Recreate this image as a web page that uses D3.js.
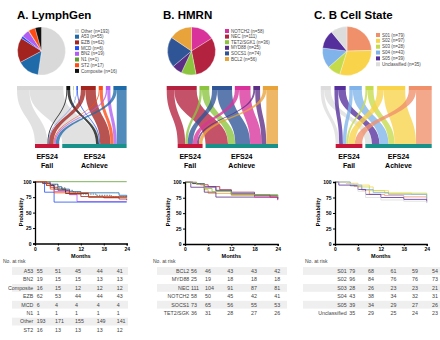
<!DOCTYPE html>
<html>
<head>
<meta charset="utf-8">
<script src="https://cdn.jsdelivr.net/npm/d3@7"></script>
<style>
body { margin: 0; background: #fff; }
svg { font-family: "Liberation Sans", Arial, sans-serif; }
</style>
</head>
<body>
<svg id="fig" width="440" height="340"></svg>
<script>
// ---- LymphGen ----
var lgNames = ["Other", "A53", "EZB", "MCD", "BN2", "N1", "ST2", "Composite"];
var lgCounts = [193, 55, 62, 6, 19, 1, 17, 16];
var lgFail = [52, 14, 19, 2, 6, 0, 4, 4];
var lgSankeyOrder = ["Other", "Composite", "N1", "MCD", "EZB", "ST2", "BN2", "A53"];
var lgKM = {
    "A53": [[0,100],[2,98],[4,96],[6,92],[7,88],[9,84],[12,82],[21,82],[22,78],[24,75]],
    "BN2": [[0,100],[4,95],[5,84],[9,79],[11,68],[24,68]],
    "Composite": [[0,100],[3,94],[5,88],[8,81],[14,75],[24,75]],
    "EZB": [[0,100],[2,97],[4,91],[6,86],[9,80],[12,76],[18,74],[22,72],[24,70]],
    "MCD": [[0,100],[2.5,83],[5,67],[24,67]],
    "N1": [[0,100],[24,100]],
    "Other": [[0,100],[2,98],[4,95],[6,90],[8,86],[10,83],[12,80],[16,78],[20,76],[24,73]],
    "ST2": [[0,100],[3,94],[4,88],[5,82],[11,82],[14,76],[24,76]]
};
var lgRiskNames = ["A53", "BN2", "Composite", "EZB", "MCD", "N1", "Other", "ST2"];
var lgRisk = [[55,51,45,44,41],[19,15,15,13,13],[16,15,12,12,12],[62,53,44,44,43],
              [6,4,4,4,4],[1,1,1,1,1],[193,171,155,149,141],[16,13,13,13,12]];

// ---- HMRN ----
var hmNames = ["NOTCH2", "NEC", "TET2/SGK1", "MYD88", "SOCS1", "BCL2"];
var hmCounts = [58, 111, 36, 25, 74, 56];
var hmFail = [16, 28, 9, 7, 19, 13];
var hmSankeyOrder = ["NEC", "TET2/SGK1", "SOCS1", "NOTCH2", "MYD88", "BCL2"];
var hmKM = {
    "BCL2": [[0,100],[2,98],[5,88],[6,82],[12,79],[24,78]],
    "MYD88": [[0,100],[1.5,92],[5,84],[8,76],[24,72]],
    "NEC": [[0,100],[2,98],[4,96],[6,93],[9,88],[12,84],[18,80],[22,76],[24,73]],
    "NOTCH2": [[0,100],[3,97],[5,92],[8,86],[12,80],[18,76],[24,71]],
    "SOCS1": [[0,100],[2,98],[5,93],[8,87],[12,82],[18,79],[24,74]],
    "TET2/SGK1": [[0,100],[3,97],[5,90],[7,85],[12,80],[24,76]]
};
var hmRiskNames = ["BCL2", "MYD88", "NEC", "NOTCH2", "SOCS1", "TET2/SGK"];
var hmRisk = [[56,46,43,43,42],[25,19,18,18,18],[111,104,91,87,81],
              [58,50,45,42,41],[73,65,56,55,53],[36,31,28,27,26]];

// ---- B Cell State ----
var bcNames = ["S01", "S02", "S03", "S04", "S05", "Unclassified"];
var bcCounts = [79, 97, 28, 43, 39, 35];
var bcFail = [25, 23, 7, 12, 13, 12];
var bcSankeyOrder = ["Unclassified", "S05", "S04", "S03", "S02", "S01"];
var bcKM = {
    "S01": [[0,100],[3,97],[5,93],[7,87],[9,80],[13,78],[18,76],[24,70]],
    "S02": [[0,100],[3,98],[6,95],[9,92],[10,86],[14,82],[20,80],[24,77]],
    "S03": [[0,100],[4,96],[6,92],[9,86],[13,82],[24,75]],
    "S04": [[0,100],[4,95],[7,88],[10,83],[14,80],[24,73]],
    "S05": [[0,100],[1,95],[4,94],[6,88],[8,80],[12,75],[18,72],[24,67]],
    "Unclassified": [[0,100],[3,97],[6,85],[8,75],[12,71],[18,69],[24,66]]
};
var bcRiskNames = ["S01", "S02", "S03", "S04", "S05", "Unclassified"];
var bcRisk = [[79,68,61,59,54],[96,84,76,76,73],[28,26,23,23,21],
              [43,38,34,32,31],[39,34,29,27,26],[35,29,25,24,23]];

var monthTicks = [0, 6, 12, 18, 24];
var probTicks = [0, 25, 50, 75, 100];

var lgColors = ["#d9d9d9", "#1f6aa8", "#a3231f", "#1f4ff5", "#b15cf2", "#5a9e2f", "#ff4a12", "#111111"];
var hmColors = ["#d9339b", "#b3223f", "#8cc43f", "#5c2d84", "#2f5597", "#e8a33a"];
var bcColors = ["#f0906b", "#f9d44a", "#c6db4b", "#7fb3ea", "#55309c", "#dcdcdc"];
var failColor = "#c8163a", achieveColor = "#17918a";

var svg = d3.select("#fig");

function drawPanel(p)
{
    var g = svg.append('g');
    var items = p.names.map((nm, i) => ({ name: nm, n: p.counts[i], fail: p.fails[i], color: p.colors[i] }));
    var byName = {};
    items.forEach(d => byName[d.name] = d);

    g.append('text')
        .attr('x', p.titleX).attr('y', 19)
        .attr('font-size', 11.5).attr('font-weight', 'bold')
        .text(p.title);

    // pie
    var pie = d3.pie().sort(null).value(d => d.n);
    var arc = d3.arc().innerRadius(0).outerRadius(p.pieR);
    g.append('g')
        .attr('transform', `translate(${p.pieX}, ${p.pieY})`)
        .selectAll('path')
        .data(pie(items))
        .join('path')
        .attr('d', arc)
        .attr('fill', d => d.data.color)
        .attr('stroke', '#fff')
        .attr('stroke-width', 0.3);

    var leg = g.append('g').selectAll('g')
        .data(items)
        .join('g')
        .attr('transform', (d, i) => `translate(${p.legX}, ${p.legY + i * p.legStep})`);
    leg.append('rect')
        .attr('x', 0).attr('y', -2).attr('width', 4).attr('height', 4)
        .attr('fill', d => d.color);
    leg.append('text')
        .attr('x', 6).attr('y', 1.6)
        .attr('font-size', 4.5).attr('fill', '#444')
        .text(d => `${d.name} (n=${d.n})`);

    // sankey (top categories -> EFS24 fail / achieve)
    var order = p.sankeyOrder.map(nm => byName[nm]);
    var total = d3.sum(order, d => d.n);
    var k = d3.scaleLinear()
        .domain([0, total])
        .range([0, p.sx1 - p.sx0 - p.sGap * (order.length - 1)]);
    var x = p.sx0;
    order.forEach(d => { d.x0 = x; d.x1 = x + k(d.n); x = d.x1 + p.sGap; });
    var failTot = d3.sum(order, d => d.fail);
    var achX0 = p.sx1 - k(total - failTot);
    var failX1 = achX0 - 3;
    var failX0 = failX1 - k(failTot);
    var fx = failX0, ax = achX0;
    var links = [];
    order.forEach(d => {
        var fw = k(d.fail), aw = k(d.n - d.fail);
        if (d.fail > 0) links.push({ color: d.color, a0: d.x0, a1: d.x0 + fw, b0: fx, b1: fx + fw });
        fx += fw;
        links.push({ color: d.color, a0: d.x0 + fw, a1: d.x1, b0: ax, b1: ax + aw });
        ax += aw;
    });
    var yT = p.sTop + 4, yB = p.sBot - 4, ym = (yT + yB) / 2;
    g.append('g').selectAll('path')
        .data(links)
        .join('path')
        .attr('d', l => `M${l.a0},${yT}C${l.a0},${ym} ${l.b0},${ym} ${l.b0},${yB}` +
                        `L${l.b1},${yB}C${l.b1},${ym} ${l.a1},${ym} ${l.a1},${yT}Z`)
        .attr('fill', l => l.color)
        .attr('fill-opacity', 0.78);
    g.append('g').selectAll('rect')
        .data(order)
        .join('rect')
        .attr('x', d => d.x0).attr('y', p.sTop)
        .attr('width', d => Math.max(0.4, d.x1 - d.x0)).attr('height', 4)
        .attr('fill', d => d.color);
    g.append('rect').attr('x', failX0).attr('y', yB).attr('width', failX1 - failX0).attr('height', 4).attr('fill', failColor);
    g.append('rect').attr('x', achX0).attr('y', yB).attr('width', p.sx1 - achX0).attr('height', 4).attr('fill', achieveColor);
    [[(failX0 + failX1) / 2, "Fail"], [(achX0 + p.sx1) / 2, "Achieve"]].forEach(function(t) {
        var lab = g.append('text')
            .attr('text-anchor', 'middle').attr('font-size', 7).attr('font-weight', 'bold');
        lab.append('tspan').attr('x', t[0]).attr('y', 158.5).text("EFS24");
        lab.append('tspan').attr('x', t[0]).attr('y', 167.5).text(t[1]);
    });

    // Kaplan-Meier
    var xScale = d3.scaleLinear().domain([0, 24]).range([p.kx0, p.kx1]);
    var yScale = d3.scaleLinear().domain([0, 100]).range([p.ky0, p.ky1]);
    var line = d3.line()
        .x(d => xScale(d[0]))
        .y(d => yScale(d[1]))
        .curve(d3.curveStepAfter);
    Object.keys(p.km).forEach(function(nm) {
        var c = byName[nm] || byName[nm + "1"];
        g.append('path')
            .attr('d', line(p.km[nm]))
            .attr('fill', 'none')
            .attr('stroke', nm == "Other" ? '#555' : c.color)
            .attr('stroke-dasharray', nm == "Other" ? '1.5,1' : null)
            .attr('stroke-width', 0.8);
    });
    var yAxis = g.append('g')
        .attr('transform', `translate(${p.kx0}, 0)`)
        .call(d3.axisLeft(yScale).tickValues(probTicks).tickSize(2).tickPadding(1.5));
    var xAxis = g.append('g')
        .attr('transform', `translate(0, ${p.ky0})`)
        .call(d3.axisBottom(xScale).tickValues(monthTicks).tickSize(2).tickPadding(1.5));
    [yAxis, xAxis].forEach(a => {
        a.select('.domain').attr('stroke-width', 1.3);
        a.selectAll('.tick line').attr('stroke-width', 1);
        a.selectAll('.tick text').attr('font-size', 5).attr('font-weight', 'bold')
            .attr('font-family', '"Liberation Sans", Arial, sans-serif');
    });
    g.append('text')
        .attr('transform', `translate(${p.probX}, 212) rotate(-90)`)
        .attr('text-anchor', 'middle').attr('font-size', 5.5).attr('font-weight', 'bold')
        .text("Probability");
    g.append('text')
        .attr('x', (p.kx0 + p.kx1) / 2).attr('y', 257.5)
        .attr('text-anchor', 'middle').attr('font-size', 5.5).attr('font-weight', 'bold')
        .text("Months");

    // number at risk table
    g.append('text')
        .attr('x', p.noRiskX).attr('y', 262.5)
        .attr('font-size', 5).attr('fill', '#444')
        .text("No. at risk");
    var rows = g.append('g').selectAll('g')
        .data(p.riskNames)
        .join('g')
        .attr('transform', (d, i) => `translate(0, ${271 + i * 8.43})`);
    rows.filter((d, i) => i % 2 == 0)
        .append('rect')
        .attr('x', p.bandX0).attr('y', -3.9)
        .attr('width', p.bandX1 - p.bandX0).attr('height', 7.8)
        .attr('fill', '#efefef');
    rows.append('text')
        .attr('x', p.labelX).attr('y', 1.8)
        .attr('text-anchor', 'end').attr('font-size', 5.3).attr('fill', '#444')
        .text(d => d);
    rows.each(function(d, i) {
        d3.select(this).selectAll('text.v')
            .data(p.risk[i])
            .join('text')
            .attr('class', 'v')
            .attr('x', (v, j) => p.cols[j]).attr('y', 1.8)
            .attr('font-size', 5.3).attr('fill', '#444')
            .text(v => v);
    });
}

drawPanel({
    title: "A. LymphGen", names: lgNames, counts: lgCounts, fails: lgFail, colors: lgColors,
    sankeyOrder: lgSankeyOrder, km: lgKM, riskNames: lgRiskNames, risk: lgRisk,
    titleX: 17, pieX: 41.5, pieY: 51, pieR: 24, legX: 75, legY: 31, legStep: 5.7,
    sx0: 17, sx1: 126.6, sGap: 3, sTop: 86, sBot: 148,
    kx0: 35, kx1: 126.7, ky0: 243.5, ky1: 181.7, probX: 22.5,
    noRiskX: 3, labelX: 33.3, cols: [36.7, 55, 75, 96.7, 116.7], bandX0: 12, bandX1: 128
});
drawPanel({
    title: "B. HMRN", names: hmNames, counts: hmCounts, fails: hmFail, colors: hmColors,
    sankeyOrder: hmSankeyOrder, km: hmKM, riskNames: hmRiskNames, risk: hmRisk,
    titleX: 163, pieX: 191.5, pieY: 51, pieR: 24, legX: 225, legY: 31, legStep: 5.6,
    sx0: 166.7, sx1: 278, sGap: 2.8, sTop: 86, sBot: 148,
    kx0: 185, kx1: 277.7, ky0: 244, ky1: 182.3, probX: 170,
    noRiskX: 153, labelX: 189.3, cols: [191, 205, 227.3, 251, 274.3], bandX0: 157, bandX1: 287
});
drawPanel({
    title: "C. B Cell State", names: bcNames, counts: bcCounts, fails: bcFail, colors: bcColors,
    sankeyOrder: bcSankeyOrder, km: bcKM, riskNames: bcRiskNames, risk: bcRisk,
    titleX: 314, pieX: 347, pieY: 51, pieR: 24.5, legX: 376, legY: 35, legStep: 5.85,
    sx0: 320.7, sx1: 431.7, sGap: 3.6, sTop: 86, sBot: 148,
    kx0: 335, kx1: 426.7, ky0: 244, ky1: 182, probX: 320,
    noRiskX: 305, labelX: 346.7, cols: [349.3, 368, 390.5, 412, 432], bandX0: 303, bandX1: 440
});
</script>
</body>
</html>
